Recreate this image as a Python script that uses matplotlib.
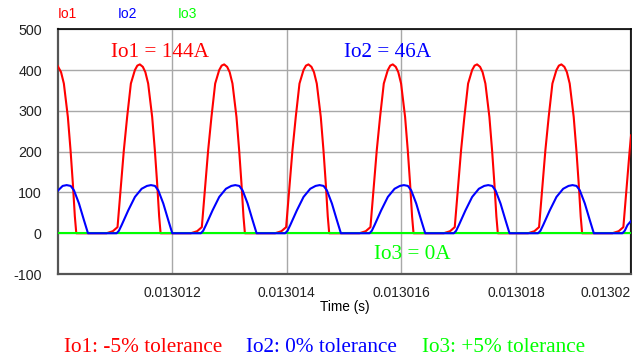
import matplotlib.pyplot as plt
import numpy as np

# time in microseconds after 0.013 s, current in A
io1_us = [
    10.000, 10.058, 10.107, 10.177, 10.224, 10.264, 10.299, 10.324,
    10.852, 10.962, 11.044, 11.154, 11.212, 11.277, 11.347, 11.390, 11.434, 11.486, 11.530, 11.579, 11.649, 11.696, 11.736, 11.771, 11.796,
    12.324, 12.434, 12.516, 12.626, 12.684, 12.749, 12.819, 12.862, 12.906, 12.958, 13.002, 13.051, 13.121, 13.168, 13.208, 13.243, 13.268,
    13.796, 13.906, 13.988, 14.098, 14.156, 14.221, 14.291, 14.334, 14.378, 14.430, 14.474, 14.523, 14.593, 14.640, 14.680, 14.715, 14.740,
    15.268, 15.378, 15.460, 15.570, 15.628, 15.693, 15.763, 15.806, 15.850, 15.902, 15.946, 15.995, 16.065, 16.112, 16.152, 16.187, 16.212,
    16.740, 16.850, 16.932, 17.042, 17.100, 17.165, 17.235, 17.278, 17.322, 17.374, 17.418, 17.467, 17.537, 17.584, 17.624, 17.659, 17.684,
    18.212, 18.322, 18.404, 18.514, 18.572, 18.637, 18.707, 18.750, 18.794, 18.846, 18.890, 18.939, 19.009, 19.056, 19.096, 19.131, 19.156,
    19.684, 19.794, 19.876, 19.986, 20.010,
]
io1_a = [
    410, 395, 367, 285, 203, 122, 41, 0,
    0, 5, 15, 203, 285, 367, 400, 411, 414, 408, 395, 367, 285, 203, 122, 41, 0,
    0, 5, 15, 203, 285, 367, 400, 411, 414, 408, 395, 367, 285, 203, 122, 41, 0,
    0, 5, 15, 203, 285, 367, 400, 411, 414, 408, 395, 367, 285, 203, 122, 41, 0,
    0, 5, 15, 203, 285, 367, 400, 411, 414, 408, 395, 367, 285, 203, 122, 41, 0,
    0, 5, 15, 203, 285, 367, 400, 411, 414, 408, 395, 367, 285, 203, 122, 41, 0,
    0, 5, 15, 203, 285, 367, 400, 411, 414, 408, 395, 367, 285, 203, 122, 41, 0,
    0, 5, 15, 203, 240,
]

io2_us = [
    10.000, 10.086, 10.156, 10.226, 10.284, 10.371, 10.458, 10.528,
    11.028, 11.068, 11.116, 11.231, 11.348, 11.465, 11.558, 11.628, 11.698, 11.756, 11.843, 11.930, 12.000,
    12.500, 12.540, 12.588, 12.703, 12.820, 12.937, 13.030, 13.100, 13.170, 13.228, 13.315, 13.402, 13.472,
    13.972, 14.012, 14.060, 14.175, 14.292, 14.409, 14.502, 14.572, 14.642, 14.700, 14.787, 14.874, 14.944,
    15.444, 15.484, 15.532, 15.647, 15.764, 15.881, 15.974, 16.044, 16.114, 16.172, 16.259, 16.346, 16.416,
    16.916, 16.956, 17.004, 17.119, 17.236, 17.353, 17.446, 17.516, 17.586, 17.644, 17.731, 17.818, 17.888,
    18.388, 18.428, 18.476, 18.591, 18.708, 18.825, 18.918, 18.988, 19.058, 19.116, 19.203, 19.290, 19.360,
    19.860, 19.900, 19.948, 20.010,
]
io2_a = [
    104, 116, 118, 116, 105, 73, 32, 0,
    0, 6, 20, 56, 89, 109, 116, 118, 116, 105, 73, 32, 0,
    0, 6, 20, 56, 89, 109, 116, 118, 116, 105, 73, 32, 0,
    0, 6, 20, 56, 89, 109, 116, 118, 116, 105, 73, 32, 0,
    0, 6, 20, 56, 89, 109, 116, 118, 116, 105, 73, 32, 0,
    0, 6, 20, 56, 89, 109, 116, 118, 116, 105, 73, 32, 0,
    0, 6, 20, 56, 89, 109, 116, 118, 116, 105, 73, 32, 0,
    0, 6, 20, 30,
]

io3_us = [10.000, 20.010]
io3_a = [0, 0]

x_ticks = [0.013012, 0.013014, 0.013016, 0.013018, 0.01302]
x_tick_labels = ["0.013012", "0.013014", "0.013016", "0.013018", "0.01302"]
y_ticks = [-100, 0, 100, 200, 300, 400, 500]

RED = "#ff0000"
BLUE = "#0000ff"
GREEN = "#00ff00"
sans = "Liberation Sans"
serif = "Liberation Serif"


def to_s(us):
    return 0.013 + np.array(us) * 1e-6


fig = plt.figure(figsize=(6.4, 3.58), dpi=100)
ax = fig.add_axes([0.0902, 0.2346, 0.8958, 0.6835])

ax.plot(to_s(io1_us), io1_a, color=RED, lw=1.5, zorder=3)
ax.plot(to_s(io3_us), io3_a, color=GREEN, lw=1.5, zorder=4)
ax.plot(to_s(io2_us), io2_a, color=BLUE, lw=1.5, zorder=5)

ax.set_xlim(to_s([10.0])[0], to_s([20.01])[0])
ax.set_ylim(-100, 500)
ax.set_yticks(y_ticks)
ax.set_yticklabels([str(v) for v in y_ticks], fontsize=10.3, family=sans, color="#222222")
ax.set_xticks(x_ticks)
ax.set_xticklabels(x_tick_labels, fontsize=10, family=sans, color="#222222")
ax.get_xticklabels()[-1].set_ha("right")
ax.tick_params(axis="y", length=0, pad=11.5)
ax.tick_params(axis="x", length=0, pad=8.6)
ax.grid(color="#a8a8a8", lw=1)

for side in ["top", "right"]:
    ax.spines[side].set_color("black")
    ax.spines[side].set_linewidth(1.2)
for side in ["left", "bottom"]:
    ax.spines[side].set_color("#555555")
    ax.spines[side].set_linewidth(1.6)

fig.text(0.539, 0.131, "Time (s)", ha="center", va="baseline", fontsize=9.8, family=sans)

# series names above the plot
fig.text(0.105, 0.949, "Io1", ha="center", va="baseline", fontsize=10, family=sans, color=RED)
fig.text(0.199, 0.949, "Io2", ha="center", va="baseline", fontsize=10, family=sans, color=BLUE)
fig.text(0.293, 0.949, "Io3", ha="center", va="baseline", fontsize=10, family=sans, color=GREEN)

# annotations
fig.text(0.25, 0.840, "Io1 = 144A", ha="center", va="baseline", fontsize=15.3, family=serif, color=RED)
fig.text(0.6055, 0.840, "Io2 = 46A", ha="center", va="baseline", fontsize=15.3, family=serif, color=BLUE)
fig.text(0.644, 0.2765, "Io3 = 0A", ha="center", va="baseline", fontsize=15.3, family=serif, color=GREEN)

fig.text(0.224, 0.0159, "Io1: -5% tolerance", ha="center", va="baseline", fontsize=15.3, family=serif, color=RED)
fig.text(0.503, 0.0159, "Io2: 0% tolerance", ha="center", va="baseline", fontsize=15.3, family=serif, color=BLUE)
fig.text(0.787, 0.0159, "Io3: +5% tolerance", ha="center", va="baseline", fontsize=15.3, family=serif, color=GREEN)

fig.savefig("out.png", dpi=100)
